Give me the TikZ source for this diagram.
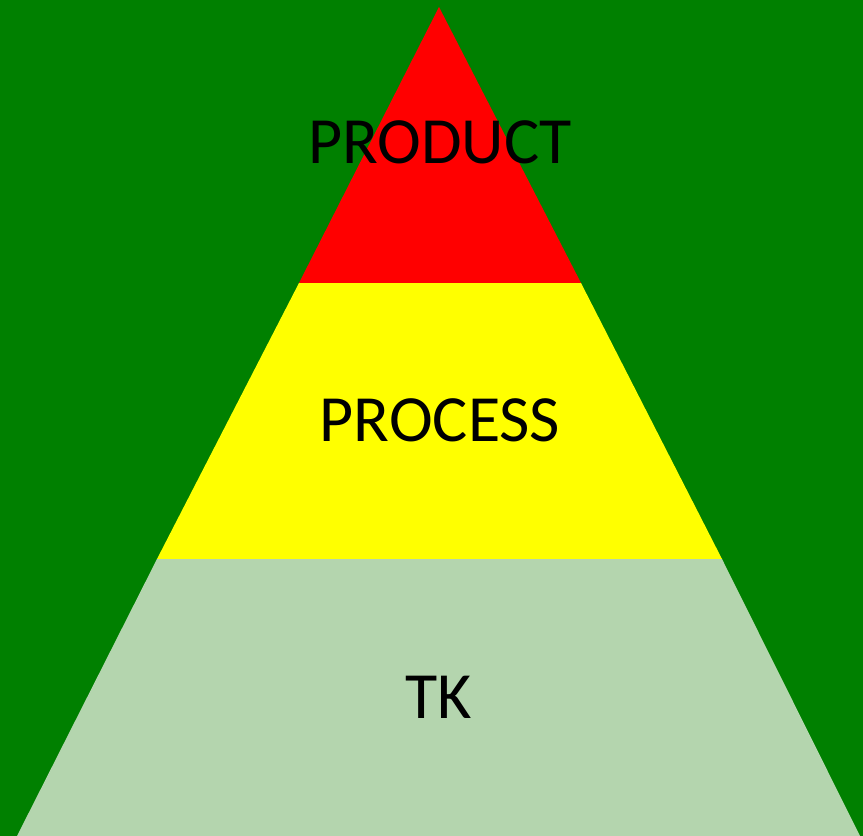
\documentclass[tikz,border=0pt]{standalone}
\usepackage{fontspec}
\setmainfont{Carlito}
\definecolor{bggreen}{HTML}{008000}
\definecolor{tkgreen}{HTML}{B4D5AE}
\definecolor{topred}{HTML}{FF0000}
\definecolor{midyellow}{HTML}{FFFF00}
\tikzset{lbl/.style={inner sep=0pt, font=\fontsize{66}{66}\selectfont, text=black}}
\begin{document}
\begin{tikzpicture}[x=1pt,y=1pt]
\fill[bggreen] (0,0) rectangle (863,836);
\useasboundingbox (0,0) rectangle (863,836);
\fill[tkgreen] (17,0) -- (860,0) -- (722,277) -- (157,277) -- cycle;
\fill[midyellow] (157,277) -- (722,277) -- (581,553) -- (299,553) -- cycle;
\fill[topred] (299,553) -- (581,553) -- (439,829) -- cycle;
\node[lbl] (product) at (440,694) {PRODUCT};
\node[lbl] (process) at (440,416) {PROCESS};
\node[lbl] (tk) at (439,139) {TK};
\end{tikzpicture}
\end{document}
